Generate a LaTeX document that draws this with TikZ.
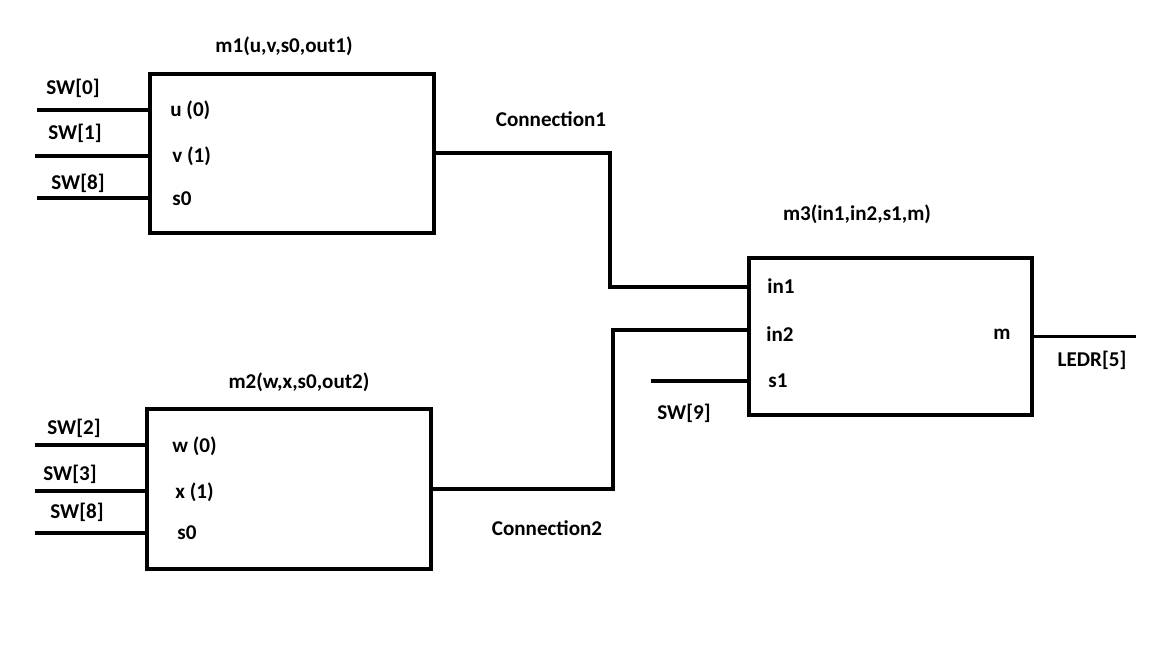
\documentclass[tikz,border=0pt]{standalone}
\usepackage{fontspec}
\setmainfont{Carlito}

\tikzset{
	module/.style = {draw, line width=0.08cm, inner sep=0pt},
	wire/.style = {line width=0.08cm},
	lbl/.style = {font=\fontsize{12}{14}\selectfont\bfseries, inner sep=0pt},
	port/.style = {lbl, anchor=west}
}

\begin{document}
\begin{tikzpicture}[x=0.02cm, y=-0.02cm]
	\useasboundingbox (0,0) rectangle (1152,648);
	% modules
	\node[module, minimum width=5.68cm, minimum height=3.18cm] (m1) at (292,153.5) {};
	\node[module, minimum width=5.68cm, minimum height=3.2cm] (m2) at (289,489) {};
	\node[module, minimum width=5.66cm, minimum height=3.14cm] (m3) at (890.5,336.5) {};
	\node[lbl] (m1Title) at (284,46) {m1(u,v,s0,out1)};
	\node[lbl] (m2Title) at (299,382) {m2(w,x,s0,out2)};
	\node[lbl] (m3Title) at (857,214) {m3(in1,in2,s1,m)};

	% ports
	\node[port] (m1u) at (170,110) {u (0)};
	\node[port] (m1v) at (172,156) {v (1)};
	\node[port] (m1s) at (172,199) {s0};
	\node[port] (m2w) at (172,446) {w (0)};
	\node[port] (m2x) at (175,492) {x (1)};
	\node[port] (m2s) at (177,533) {s0};
	\node[port] (m3in1) at (767,286) {in1};
	\node[port] (m3in2) at (766,334) {in2};
	\node[port] (m3s) at (768,381) {s1};
	\node[lbl] (m3m) at (1002,334) {m};

	% switches
	\coordinate (sw0) at (37,110);
	\coordinate (sw1) at (35,156);
	\coordinate (sw8a) at (37,198);
	\coordinate (sw2) at (35,445);
	\coordinate (sw3) at (35,491);
	\coordinate (sw8b) at (35,533);
	\coordinate (sw9) at (651,381);
	\coordinate (ledr) at (1136,336.5);
	\coordinate (j1) at (610,287);
	\coordinate (j2) at (613,330);
	\node[lbl] (sw0Label) at (73,88) {SW[0]};
	\node[lbl] (sw1Label) at (75,133) {SW[1]};
	\node[lbl] (sw8aLabel) at (78,183) {SW[8]};
	\node[lbl] (sw2Label) at (74,428) {SW[2]};
	\node[lbl] (sw3Label) at (70,474) {SW[3]};
	\node[lbl] (sw8bLabel) at (77,512) {SW[8]};
	\node[lbl] (sw9Label) at (684,413) {SW[9]};
	\node[lbl] (ledrLabel) at (1092,360) {LEDR[5]};
	\node[lbl] (c1Label) at (551,119) {Connection1};
	\node[lbl] (c2Label) at (547,528) {Connection2};

	\draw[wire] (sw0) -- (sw0 -| m1.west);
	\draw[wire] (sw1) -- (sw1 -| m1.west);
	\draw[wire] (sw8a) -- (sw8a -| m1.west);
	\draw[wire] (sw2) -- (sw2 -| m2.west);
	\draw[wire] (sw3) -- (sw3 -| m2.west);
	\draw[wire] (sw8b) -- (sw8b -| m2.west);
	\draw[wire] (sw9) -- (sw9 -| m3.west);
	\draw[wire] (m1.east) -| (j1) -- (j1 -| m3.west);
	\draw[wire] (m2.east) -| (j2) -- (j2 -| m3.west);
	\draw[wire] (m3.east) -- (ledr);
\end{tikzpicture}
\end{document}
